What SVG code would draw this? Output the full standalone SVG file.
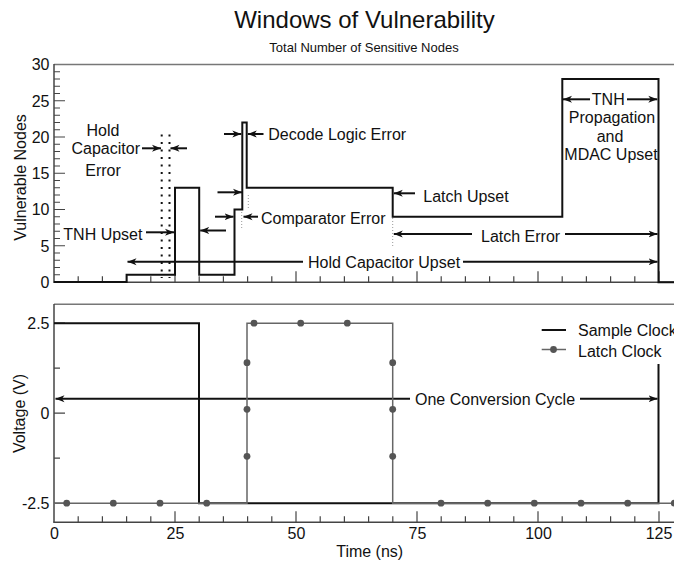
<svg xmlns="http://www.w3.org/2000/svg" width="674" height="564" viewBox="0 0 674 564">
<style>
text{font-family:"Liberation Sans",Arial,sans-serif;fill:#111;font-size:16px}
.title{font-size:24px;text-anchor:middle}
.sub{font-size:13px;text-anchor:middle}
.yl{text-anchor:end}
.xl{text-anchor:middle}
.mid{text-anchor:middle}
.end{text-anchor:end}
.axis{stroke:#444;stroke-width:1.5;fill:none}
.frame{stroke:#777;stroke-width:1.5;fill:none}
.tick{stroke:#444;stroke-width:1.2}
.data{stroke:#111;stroke-width:2;fill:none}
.latch{stroke:#666;stroke-width:1.5;fill:none}
.arr{stroke:#111;stroke-width:2;fill:none;marker-end:url(#ah)}
.dots{stroke:#111;stroke-width:2;stroke-dasharray:2 5.5}
.ldots{stroke:#999;stroke-width:1;stroke-dasharray:1 2}
.mk{fill:#555}
</style>
<defs>
<marker id="ah" markerUnits="userSpaceOnUse" markerWidth="10" markerHeight="8" refX="9" refY="4" orient="auto">
<path d="M0,0.5 L9,4 L0,7.5 L2.5,4 z" fill="#111"/>
</marker>
</defs>
<rect width="674" height="564" fill="#fff"/>

<g id="titles">
<text class="title" x="364.5" y="28">Windows of Vulnerability</text>
<text class="sub" x="364" y="51.5">Total Number of Sensitive Nodes</text>
</g>

<!-- Top plot axes -->
<g id="top-axes">
<line class="frame" x1="54" y1="64.5" x2="674" y2="64.5"/>
<line class="axis" x1="54" y1="64" x2="54" y2="282.5"/>
<line class="axis" x1="53.3" y1="282.3" x2="674" y2="282.3"/>
<path class="tick" d="M54,274.75h6M54,267.5h6M54,260.25h6M54,253h6M54,245.75h11M54,238.5h6M54,231.25h6M54,224h6M54,216.75h6M54,209.5h11M54,202.25h6M54,195h6M54,187.75h6M54,180.5h6M54,173.25h11M54,166h6M54,158.75h6M54,151.5h6M54,144.25h6M54,137h11M54,129.75h6M54,122.5h6M54,115.25h6M54,108h6M54,100.75h11M54,93.5h6M54,86.25h6M54,79h6M54,71.75h6"/>
<path class="tick" d="M78.2,282.3v-6M102.4,282.3v-6M126.6,282.3v-6M150.8,282.3v-6M175,282.3v-11M199.2,282.3v-6M223.4,282.3v-6M247.6,282.3v-6M271.8,282.3v-6M296,282.3v-11M320.2,282.3v-6M344.4,282.3v-6M368.6,282.3v-6M392.8,282.3v-6M417,282.3v-11M441.2,282.3v-6M465.4,282.3v-6M489.6,282.3v-6M513.8,282.3v-6M538,282.3v-11M562.2,282.3v-6M586.4,282.3v-6M610.6,282.3v-6M634.8,282.3v-6M659,282.3v-11"/>
<text class="yl" x="49.5" y="288">0</text>
<text class="yl" x="49.5" y="251.5">5</text>
<text class="yl" x="49.5" y="215.2">10</text>
<text class="yl" x="49.5" y="179">15</text>
<text class="yl" x="49.5" y="142.7">20</text>
<text class="yl" x="49.5" y="106.5">25</text>
<text class="yl" x="49.5" y="70.2">30</text>
<text transform="translate(25.5,177.5) rotate(-90)" class="mid">Vulnerable Nodes</text>
</g>

<g id="top-data">
<path class="data" d="M54,282 H126.6 V274.75 H175 V187.75 H199.2 V274.75 H234.5 V209.5 H242.3 V122.5 H246.7 V187.75 H392.7 V216.75 H562.3 V79 H658.5 V282.3 H674"/>
<line class="dots" x1="161.7" y1="134.5" x2="161.7" y2="278"/>
<line class="dots" x1="169.5" y1="134.5" x2="169.5" y2="278"/>
<line class="ldots" x1="248.3" y1="195" x2="248.3" y2="210"/>
<line class="ldots" x1="241.7" y1="212" x2="241.7" y2="230"/>
<line class="ldots" x1="392.7" y1="218" x2="392.7" y2="246"/>
</g>

<g id="connectors">
<line class="arr" x1="142" y1="148.3" x2="161" y2="148.3"/>
<line class="arr" x1="187" y1="148.3" x2="170.5" y2="148.3"/>
<line class="arr" x1="146" y1="232.3" x2="174" y2="232.3"/>
<line class="arr" x1="226" y1="230.5" x2="200.2" y2="230.5"/>
<line class="arr" x1="217.5" y1="192.3" x2="242" y2="192.3"/>
<line class="arr" x1="215" y1="216.7" x2="233.5" y2="216.7"/>
<line class="arr" x1="258" y1="216.7" x2="243.5" y2="216.7"/>
<line class="arr" x1="224" y1="134" x2="241.3" y2="134"/>
<line class="arr" x1="263.5" y1="134" x2="247.8" y2="134"/>
<line class="arr" x1="303" y1="261.7" x2="127.5" y2="261.7"/>
<line class="arr" x1="463" y1="261.7" x2="657.5" y2="261.7"/>
<line class="arr" x1="415" y1="193.3" x2="393.8" y2="193.3"/>
<line class="arr" x1="472" y1="234" x2="393.8" y2="234"/>
<line class="arr" x1="565" y1="234" x2="657.5" y2="234"/>
<line class="arr" x1="590" y1="99.3" x2="563" y2="99.3"/>
<line class="arr" x1="627" y1="99.3" x2="657.3" y2="99.3"/>
<line class="arr" x1="410" y1="398.7" x2="55.5" y2="398.7"/>
<line class="arr" x1="580" y1="398.7" x2="657.5" y2="398.7"/>
</g>

<g id="top-labels">
<text class="mid" x="103" y="135.7">Hold</text>
<text class="end" x="140" y="154">Capacitor</text>
<text class="mid" x="103" y="175.7">Error</text>
<text x="63.3" y="239.7">TNH Upset</text>
<text x="268.3" y="139.7">Decode Logic Error</text>
<text x="261" y="224">Comparator Error</text>
<text x="423.3" y="201.7">Latch Upset</text>
<text x="481" y="242.4">Latch Error</text>
<text x="308" y="268.4">Hold Capacitor Upset</text>
<text class="mid" x="608.3" y="105">TNH</text>
<text class="mid" x="612" y="123">Propagation</text>
<text class="mid" x="610" y="141.7">and</text>
<text class="mid" x="611" y="160">MDAC Upset</text>
</g>

<!-- Bottom plot -->
<g id="bottom-axes">
<line class="frame" x1="54" y1="304.3" x2="674" y2="304.3"/>
<line class="axis" x1="54" y1="304" x2="54" y2="522.5"/>
<line class="axis" x1="53.3" y1="522.3" x2="674" y2="522.3"/>
<path class="tick" d="M54,323.2h11M54,368.2h6M54,413.2h11M54,458.2h6M54,503.2h11"/>
<path class="tick" d="M78.2,522.3v-6M102.4,522.3v-6M126.6,522.3v-6M150.8,522.3v-6M175,522.3v-11M199.2,522.3v-6M223.4,522.3v-6M247.6,522.3v-6M271.8,522.3v-6M296,522.3v-11M320.2,522.3v-6M344.4,522.3v-6M368.6,522.3v-6M392.8,522.3v-6M417,522.3v-11M441.2,522.3v-6M465.4,522.3v-6M489.6,522.3v-6M513.8,522.3v-6M538,522.3v-11M562.2,522.3v-6M586.4,522.3v-6M610.6,522.3v-6M634.8,522.3v-6M659,522.3v-11"/>
<text class="yl" x="49.5" y="328.9">2.5</text>
<text class="yl" x="49.5" y="418.9">0</text>
<text class="yl" x="49.5" y="508.9">-2.5</text>
<text class="xl" x="54.5" y="539">0</text>
<text class="xl" x="175.5" y="539">25</text>
<text class="xl" x="296.5" y="539">50</text>
<text class="xl" x="417.5" y="539">75</text>
<text class="xl" x="538.5" y="539">100</text>
<text class="xl" x="659" y="539">125</text>
<text transform="translate(24.7,413.5) rotate(-90)" class="mid">Voltage (V)</text>
<text class="mid" x="369.7" y="557">Time (ns)</text>
</g>

<g id="sample-clock">
<path class="data" d="M54,323.2 H199 V503.2 H658.5 V323.2 H674"/>
</g>

<g id="latch-clock">
<path class="latch" d="M54,503.2 H247 V323.2 H392.7 V503.2 H674"/>
<g class="mk">
<circle cx="66.7" cy="503.2" r="3.4"/><circle cx="113.3" cy="503.2" r="3.4"/><circle cx="160" cy="503.2" r="3.4"/><circle cx="206.7" cy="503.2" r="3.4"/>
<circle cx="247" cy="456.3" r="3.4"/><circle cx="247" cy="409.3" r="3.4"/><circle cx="247" cy="362.7" r="3.4"/>
<circle cx="254" cy="323.2" r="3.4"/><circle cx="300.7" cy="323.2" r="3.4"/><circle cx="347.3" cy="323.2" r="3.4"/>
<circle cx="392.7" cy="362.7" r="3.4"/><circle cx="392.7" cy="409.3" r="3.4"/><circle cx="392.7" cy="456.3" r="3.4"/>
<circle cx="441" cy="503.2" r="3.4"/><circle cx="487.7" cy="503.2" r="3.4"/><circle cx="534.3" cy="503.2" r="3.4"/><circle cx="581" cy="503.2" r="3.4"/><circle cx="627.7" cy="503.2" r="3.4"/><circle cx="674.3" cy="503.2" r="3.4"/>
</g>
</g>

<g id="bottom-labels">
<text x="415" y="404.7">One Conversion Cycle</text>
</g>

<g id="legend">
<rect x="536" y="312" width="140" height="52" fill="#fff"/>
<line class="data" x1="541.7" y1="330" x2="566" y2="330"/>
<text x="578" y="336.4">Sample Clock</text>
<line class="latch" x1="541.7" y1="349.5" x2="566" y2="349.5"/>
<circle class="mk" cx="553.5" cy="349.5" r="3.4"/>
<text x="578" y="357.4">Latch Clock</text>
</g>
</svg>
